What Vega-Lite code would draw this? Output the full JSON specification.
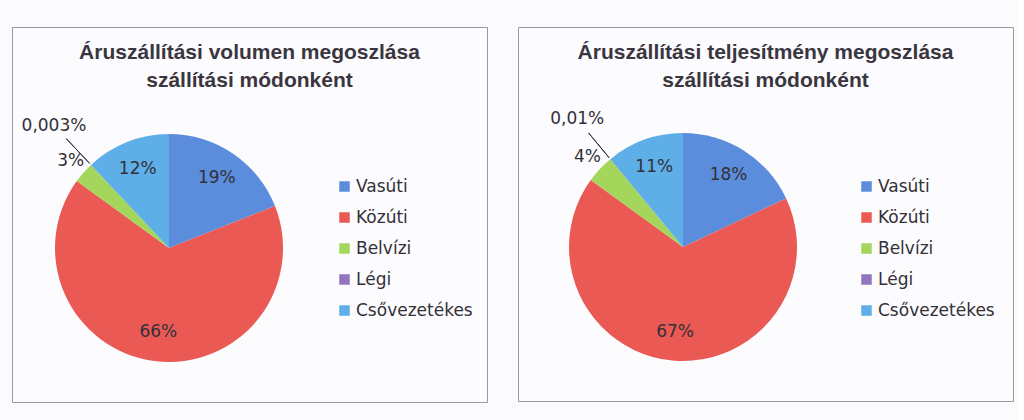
{
  "$schema": "https://vega.github.io/schema/vega-lite/v6.json",
  "background": "#fbfafc",
  "padding": {"left": 11, "top": 26, "right": 5, "bottom": 5},
  "config": {
    "view": {"stroke": "#9a98a0", "strokeWidth": 1, "fill": "#fcfbfd"},
    "font": "DejaVu Sans"
  },
  "resolve": {"scale": {"color": "independent"}, "legend": {"color": "independent"}},
  "datasets": {
    "vol": [
      {"mod": "Vasúti", "v": 19, "lab": "19%", "i": 1},
      {"mod": "Közúti", "v": 66, "lab": "66%", "i": 2},
      {"mod": "Belvízi", "v": 3, "lab": "3%", "i": 3},
      {"mod": "Légi", "v": 0.003, "lab": "0,003%", "i": 4},
      {"mod": "Csővezetékes", "v": 12, "lab": "12%", "i": 5}
    ],
    "perf": [
      {"mod": "Vasúti", "v": 18, "lab": "18%", "i": 1},
      {"mod": "Közúti", "v": 67, "lab": "67%", "i": 2},
      {"mod": "Belvízi", "v": 4, "lab": "4%", "i": 3},
      {"mod": "Légi", "v": 0.01, "lab": "0,01%", "i": 4},
      {"mod": "Csővezetékes", "v": 11, "lab": "11%", "i": 5}
    ]
  },
  "spacing": 29,
  "hconcat": [
    {
      "width": 475,
      "height": 375,
      "data": {"name": "vol"},
      "title": {
        "text": ["Áruszállítási volumen megoszlása", "szállítási módonként"],
        "offset": -64,
        "anchor": "middle",
        "font": "Liberation Sans",
        "fontSize": 21,
        "fontWeight": "bold",
        "color": "#3a3640",
        "lineHeight": 28
      },
      "encoding": {
        "theta": {"field": "v", "type": "quantitative", "stack": true},
        "order": {"field": "i", "type": "quantitative"},
        "color": {
          "field": "mod",
          "type": "nominal",
          "scale": {
            "domain": ["Vasúti", "Közúti", "Belvízi", "Légi", "Csővezetékes"],
            "range": ["#5b8ddc", "#ea5953", "#a4d65c", "#9274c0", "#5eaee8"]
          },
          "legend": {
            "title": null,
            "orient": "none",
            "legendX": 324,
            "legendY": 151,
            "symbolType": "square",
            "symbolSize": 110,
            "symbolStrokeWidth": 0,
            "labelFontSize": 17,
            "labelFont": "DejaVu Sans",
            "labelColor": "#333038",
            "labelOffset": 3,
            "rowPadding": 13
          }
        },
        "x": {"value": 157},
        "y": {"value": 221}
      },
      "layer": [
        {"mark": {"type": "arc", "radius": 114}},
        {
          "mark": {"type": "arc", "radius": 150, "radius2": 116, "fillOpacity": 0, "stroke": "#333038", "strokeWidth": 1},
          "encoding": {"strokeOpacity": {"condition": {"test": "datum.mod === 'Légi'", "value": 1}, "value": 0}}
        },
        {
          "mark": {"type": "text", "radius": 85, "fontSize": 17, "align": "center", "baseline": "middle"},
          "encoding": {"text": {"condition": {"test": "datum.v >= 5", "field": "lab"}, "value": ""}, "color": {"value": "#333038"}}
        },
        {
          "mark": {"type": "text", "radius": 131, "fontSize": 17, "align": "center", "baseline": "middle"},
          "encoding": {"text": {"condition": {"test": "datum.mod === 'Belvízi'", "field": "lab"}, "value": ""}, "color": {"value": "#333038"}}
        },
        {
          "mark": {"type": "text", "radius": 168, "fontSize": 17, "align": "center", "baseline": "middle"},
          "encoding": {"text": {"condition": {"test": "datum.mod === 'Légi'", "field": "lab"}, "value": ""}, "color": {"value": "#333038"}}
        }
      ]
    },
    {
      "width": 495,
      "height": 374,
      "data": {"name": "perf"},
      "title": {
        "text": ["Áruszállítási teljesítmény  megoszlása", "szállítási módonként"],
        "offset": -64,
        "anchor": "middle",
        "font": "Liberation Sans",
        "fontSize": 21,
        "fontWeight": "bold",
        "color": "#3a3640",
        "lineHeight": 28
      },
      "encoding": {
        "theta": {"field": "v", "type": "quantitative", "stack": true},
        "order": {"field": "i", "type": "quantitative"},
        "color": {
          "field": "mod",
          "type": "nominal",
          "scale": {
            "domain": ["Vasúti", "Közúti", "Belvízi", "Légi", "Csővezetékes"],
            "range": ["#5b8ddc", "#ea5953", "#a4d65c", "#9274c0", "#5eaee8"]
          },
          "legend": {
            "title": null,
            "orient": "none",
            "legendX": 340,
            "legendY": 151,
            "symbolType": "square",
            "symbolSize": 110,
            "symbolStrokeWidth": 0,
            "labelFontSize": 17,
            "labelFont": "DejaVu Sans",
            "labelColor": "#333038",
            "labelOffset": 3,
            "rowPadding": 13
          }
        },
        "x": {"value": 165},
        "y": {"value": 220}
      },
      "layer": [
        {"mark": {"type": "arc", "radius": 114}},
        {
          "mark": {"type": "arc", "radius": 148, "radius2": 116, "fillOpacity": 0, "stroke": "#333038", "strokeWidth": 1},
          "encoding": {"strokeOpacity": {"condition": {"test": "datum.mod === 'Légi'", "value": 1}, "value": 0}}
        },
        {
          "mark": {"type": "text", "radius": 85, "fontSize": 17, "align": "center", "baseline": "middle"},
          "encoding": {"text": {"condition": {"test": "datum.v >= 5", "field": "lab"}, "value": ""}, "color": {"value": "#333038"}}
        },
        {
          "mark": {"type": "text", "radius": 131, "fontSize": 17, "align": "center", "baseline": "middle"},
          "encoding": {"text": {"condition": {"test": "datum.mod === 'Belvízi'", "field": "lab"}, "value": ""}, "color": {"value": "#333038"}}
        },
        {
          "mark": {"type": "text", "radius": 166, "fontSize": 17, "align": "center", "baseline": "middle"},
          "encoding": {"text": {"condition": {"test": "datum.mod === 'Légi'", "field": "lab"}, "value": ""}, "color": {"value": "#333038"}}
        }
      ]
    }
  ]
}
